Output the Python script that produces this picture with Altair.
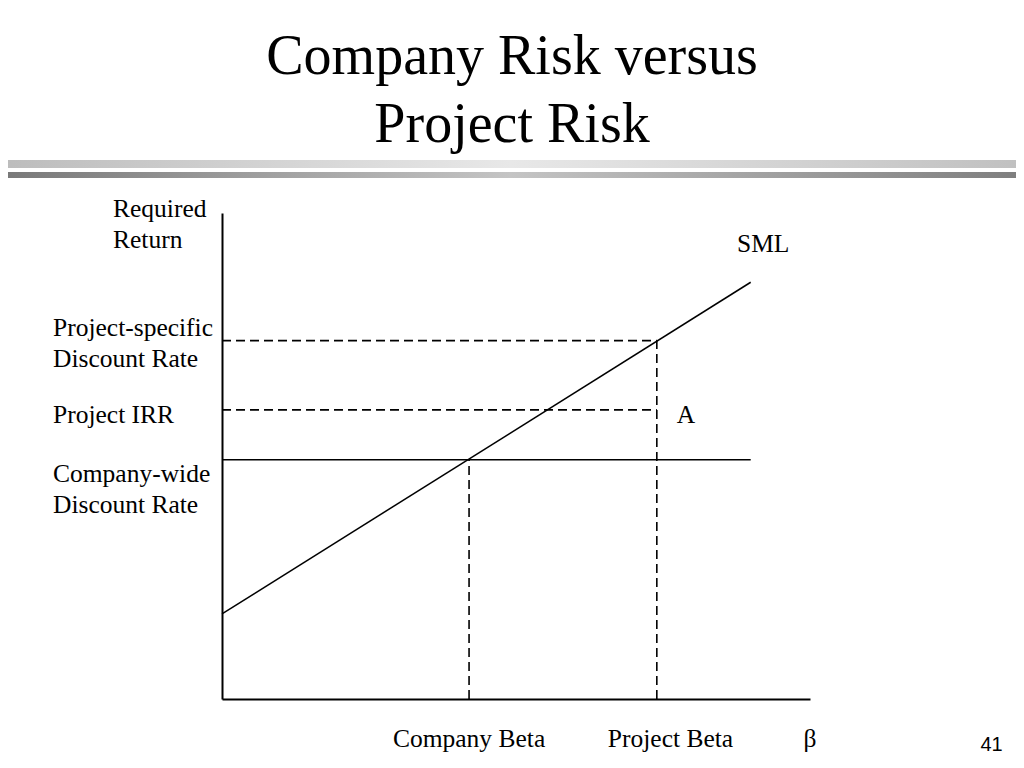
import altair as alt
import pandas as pd

# ---- data (conceptual units: beta on x, required return in % on y) ----
X_MAX = 2.38
Y_MAX = 20.0
sml_beta = [0.0, 2.14]
sml_return = [3.5, 17.15]
company_beta = 1.0
project_beta = 1.76
company_rate = 9.85
project_irr = 11.9
project_rate = 14.75
company_line_end = 2.14

title_lines = ["Company Risk versus", "Project Risk"]
y_title_lines = ["Required", "Return"]
project_label = ["Project-specific", "Discount Rate"]
irr_label = "Project IRR"
company_label = ["Company-wide", "Discount Rate"]

FONT = "Liberation Serif"
one = pd.DataFrame({"k": [0]})

xs = alt.Scale(domain=[0, X_MAX], nice=False, zero=False)
ys = alt.Scale(domain=[0, Y_MAX], nice=False, zero=False)
ax = dict(domain=True, ticks=False, labels=False, grid=False, title=None,
          domainColor="black", domainWidth=2)

sml_df = pd.DataFrame({"beta": sml_beta, "ret": sml_return})
sml = alt.Chart(sml_df).mark_line(color="black", strokeWidth=1.5).encode(
    x=alt.X("beta:Q", scale=xs, axis=alt.Axis(**ax)),
    y=alt.Y("ret:Q", scale=ys, axis=alt.Axis(**ax)),
)

solid_h = alt.Chart(pd.DataFrame({"x": [0.0], "x2": [company_line_end], "y": [company_rate]})).mark_rule(
    color="black", strokeWidth=1.5).encode(x=alt.X("x:Q", scale=xs), x2="x2:Q", y=alt.Y("y:Q", scale=ys))

dash_h = alt.Chart(pd.DataFrame({"x": [0.0, 0.0], "x2": [project_beta, project_beta],
                                 "y": [project_rate, project_irr]})).mark_rule(
    color="black", strokeWidth=1.6, strokeDash=[9, 5]).encode(
    x=alt.X("x:Q", scale=xs), x2="x2:Q", y=alt.Y("y:Q", scale=ys))

dash_v = alt.Chart(pd.DataFrame({"x": [company_beta, project_beta], "y": [0.0, 0.0],
                                 "y2": [company_rate, project_rate]})).mark_rule(
    color="black", strokeWidth=1.6, strokeDash=[9, 5]).encode(
    x=alt.X("x:Q", scale=xs), y=alt.Y("y:Q", scale=ys), y2="y2:Q")

def txt(text, **kw):
    base = dict(font=FONT, fontSize=25.5, color="black", baseline="alphabetic",
                align="left", lineHeight=31)
    base.update(kw)
    return alt.Chart(one).mark_text(text=text, **base)

# decorative title and bars
grad1 = alt.Gradient(gradient="linear", x1=0, x2=1, y1=0, y2=0,
                     stops=[alt.GradientStop(color="#bcbcbc", offset=0),
                            alt.GradientStop(color="#e8e8e8", offset=0.5),
                            alt.GradientStop(color="#c0c0c0", offset=1)])
grad2 = alt.Gradient(gradient="linear", x1=0, x2=1, y1=0, y2=0,
                     stops=[alt.GradientStop(color="#787878", offset=0),
                            alt.GradientStop(color="#c4c4c4", offset=0.5),
                            alt.GradientStop(color="#7e7e7e", offset=1)])
bar1 = alt.Chart(one).mark_rect(fill=grad1).encode(
    x=alt.value(-222), x2=alt.value(800), y=alt.value(-53), y2=alt.value(-45))
bar2 = alt.Chart(one).mark_rect(fill=grad2).encode(
    x=alt.value(-222), x2=alt.value(800), y=alt.value(-41), y2=alt.value(-35))

title = txt(title_lines, fontSize=56, align="center", lineHeight=68).encode(
    x=alt.value(290), y=alt.value(-139))

ylab = txt(y_title_lines).encode(x=alt.value(-109), y=alt.value(4))
sml_lab = txt("SML").encode(x=alt.value(515), y=alt.value(39))
proj_lab = txt(project_label, dy=-5).encode(x=alt.value(-169), y=alt.datum(project_rate))
irr_lab = txt(irr_label, dy=13).encode(x=alt.value(-169), y=alt.datum(project_irr))
comp_lab = txt(company_label, dy=22).encode(x=alt.value(-169), y=alt.datum(company_rate))
a_lab = txt("A", dx=20, dy=13).encode(x=alt.datum(project_beta), y=alt.datum(project_irr))
cb_lab = txt("Company Beta", align="center").encode(x=alt.datum(company_beta), y=alt.value(534))
pb_lab = txt("Project Beta", align="left", dx=-49).encode(x=alt.datum(project_beta), y=alt.value(534))
beta_lab = txt("β", align="center").encode(x=alt.datum(X_MAX), y=alt.value(534))
page = txt("41", font="Liberation Sans", fontSize=20, align="center").encode(
    x=alt.value(769.5), y=alt.value(538))

chart = alt.layer(
    sml, solid_h, dash_h, dash_v, bar1, bar2, title, ylab, sml_lab,
    proj_lab, irr_lab, comp_lab, a_lab, cb_lab, pb_lab, beta_lab, page
).properties(
    width=588, height=486,
    padding={"left": 214, "top": 205, "right": 206, "bottom": 61},
    autosize=alt.AutoSizeParams(type="none"),
    background="white",
).configure_view(stroke=None)

chart.save("out.html", embed_options={"renderer": "svg", "actions": False})
